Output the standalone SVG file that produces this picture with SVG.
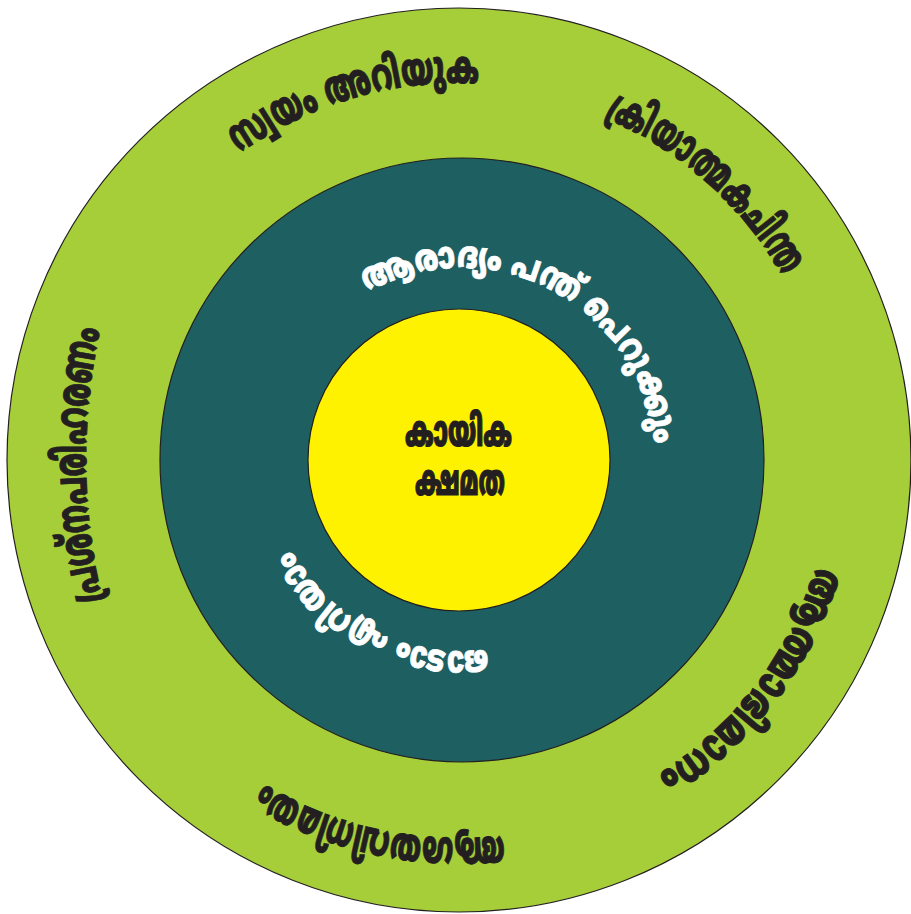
<svg xmlns="http://www.w3.org/2000/svg" xmlns:xlink="http://www.w3.org/1999/xlink" width="911" height="914" viewBox="0 0 911 914">
  <style>
    .ring { stroke: #231f20; stroke-width: 1.2; }
    .ml { font-family: "Noto Sans Malayalam", "Noto Sans", "DejaVu Sans", sans-serif; font-weight: 900; }
    .outer-label { font-size: 45px; fill: #231f20; stroke: #231f20; stroke-width: 1; }
    .mid-label { font-size: 37px; fill: #ffffff; stroke: #ffffff; stroke-width: 0.8; }
    .core-label { font-size: 43px; fill: #231f20; stroke: #231f20; stroke-width: 1.2; }
  </style>
  <defs>
    <!-- clockwise arc baselines, one per curved label -->
    <path id="trackSelf" d="M 239.5 153.5 A 377 377 0 0 1 524.4 88.7"/>
    <path id="trackCreative" d="M 604.3 117.6 A 372 372 0 0 1 808.6 332.8"/>
    <path id="trackEsteem" d="M 815.7 565.6 A 372 372 0 0 1 616.2 797.1"/>
    <path id="trackComm" d="M 503.8 835.4 A 378 378 0 0 1 216 749.5"/>
    <path id="trackProblem" d="M 102.6 600 A 600 600 0 0 1 103.1 318"/>
    <path id="trackBall" d="M 367 292.6 A 192 192 0 0 1 650.1 493.3"/>
    <path id="trackRun" d="M 487.9 649.1 A 191 191 0 0 1 272.9 493.2"/>
  </defs>

  <rect width="911" height="914" fill="#ffffff"/>

  <g id="outer-ring">
    <circle class="ring" cx="459" cy="460" r="452" fill="#a6ce39"/>
    <text class="ml outer-label">
      <textPath xlink:href="#trackSelf" textLength="254" lengthAdjust="spacingAndGlyphs">സ്വയം അറിയുക</textPath>
    </text>
    <text class="ml outer-label">
      <textPath xlink:href="#trackCreative" textLength="243" lengthAdjust="spacingAndGlyphs">ക്രിയാത്മകചിന്ത</textPath>
    </text>
    <text class="ml outer-label">
      <textPath xlink:href="#trackEsteem" textLength="268" lengthAdjust="spacingAndGlyphs">ആത്മാഭിമാനം</textPath>
    </text>
    <text class="ml outer-label">
      <textPath xlink:href="#trackComm" textLength="250" lengthAdjust="spacingAndGlyphs">ആശയവിനിമയം</textPath>
    </text>
    <text class="ml outer-label">
      <textPath xlink:href="#trackProblem" textLength="273" lengthAdjust="spacingAndGlyphs">പ്രശ്നപരിഹരണം</textPath>
    </text>
  </g>

  <g id="middle-ring">
    <circle class="ring" cx="462" cy="460" r="302" fill="#1e6062"/>
    <text class="ml mid-label">
      <textPath xlink:href="#trackBall" textLength="385" lengthAdjust="spacingAndGlyphs">ആരാദ്യം പന്ത് പെറുക്കും</textPath>
    </text>
    <text class="ml mid-label">
      <textPath xlink:href="#trackRun" textLength="235" lengthAdjust="spacingAndGlyphs">ഓടാം എറിയാം</textPath>
    </text>
  </g>

  <g id="core">
    <circle class="ring" cx="459" cy="460" r="151" fill="#fff200"/>
    <text class="ml core-label" x="405" y="446" textLength="107" lengthAdjust="spacingAndGlyphs">കായിക</text>
    <text class="ml core-label" x="415" y="495" textLength="90" lengthAdjust="spacingAndGlyphs">ക്ഷമത</text>
  </g>
</svg>
